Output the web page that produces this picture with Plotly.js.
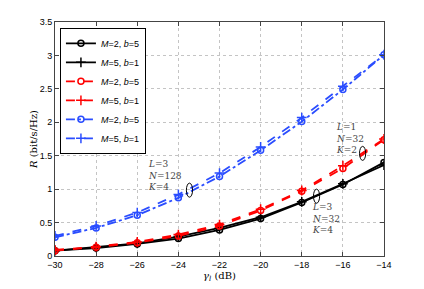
<!DOCTYPE html>
<html><head><meta charset="utf-8">
<script src="https://cdn.plot.ly/plotly-3.0.1.min.js"></script>
<style>html,body{margin:0;padding:0;background:#fff}#c{width:424px;height:289px}</style>
</head><body><div id="c"></div>
<script>
const gamma = [-30, -28, -26, -24, -22, -20, -18, -16, -14];
const blackM2 = [0.08, 0.12, 0.18, 0.26, 0.39, 0.56, 0.80, 1.07, 1.40];
const blackM5 = [0.08, 0.13, 0.19, 0.29, 0.42, 0.58, 0.81, 1.08, 1.36];
const redM2 = [0.08, 0.13, 0.20, 0.30, 0.45, 0.68, 0.97, 1.31, 1.74];
const redM5 = [0.09, 0.14, 0.21, 0.32, 0.47, 0.70, 0.98, 1.35, 1.75];
const blueM2 = [0.28, 0.42, 0.61, 0.87, 1.19, 1.58, 2.01, 2.49, 3.01];
const blueM5 = [0.30, 0.45, 0.65, 0.92, 1.24, 1.63, 2.07, 2.54, 3.01];
const names = ['<i>M</i>=2, <i>b</i>=5', '<i>M</i>=5, <i>b</i>=1'];

function tr(y, name, color, dash, sym) {
  return {x: gamma, y: y, name: name, mode: 'lines+markers', type: 'scatter',
    line: {color: color, width: 1.8, dash: dash},
    marker: {symbol: sym, size: sym === 'circle-open' ? 6 : 7, color: color, line: {width: 1.5, color: color}}};
}
const data = [
  tr(blackM2, names[0], '#000000', 'solid', 'circle-open'),
  tr(blackM5, names[1], '#000000', 'solid', 'cross-thin-open'),
  tr(redM2, names[0], '#ff0000', 'dash', 'circle-open'),
  tr(redM5, names[1], '#ff0000', 'dash', 'cross-thin-open'),
  tr(blueM2, names[0], '#2a4dff', 'dashdot', 'circle-open'),
  tr(blueM5, names[1], '#2a4dff', 'dash', 'cross-thin-open')
];
const annFont = {family: 'DejaVu Serif', size: 9, color: '#444'};
const layout = {
  width: 424, height: 289,
  margin: {l: 55, r: 40, t: 22, b: 33},
  paper_bgcolor: '#fff', plot_bgcolor: '#fff',
  font: {family: 'Liberation Sans', size: 9, color: '#000'},
  xaxis: {range: [-30, -14], dtick: 2, tick0: -30, showgrid: true, gridcolor: '#c4c4c4', griddash: 'dot',
    zeroline: false, showline: true, linecolor: '#444', linewidth: 1, mirror: 'ticks', ticks: 'inside', ticklen: 4,
    tickcolor: '#444',
    title: {text: '<i>γ<sub>l</sub></i> (dB)', font: {family: 'DejaVu Serif', size: 10}, standoff: 0}},
  yaxis: {range: [0, 3.5], dtick: 0.5, showgrid: true, gridcolor: '#c4c4c4', griddash: 'dot',
    zeroline: false, showline: true, linecolor: '#444', linewidth: 1, mirror: 'ticks', ticks: 'inside', ticklen: 4,
    tickcolor: '#444',
    title: {text: '<i>R</i> (bit/s/Hz)', font: {family: 'DejaVu Serif', size: 10}, standoff: 0}},
  legend: {x: 0.015, y: 0.975, xanchor: 'left', yanchor: 'top', bgcolor: '#fff', bordercolor: '#000', borderwidth: 1,
    font: {family: 'Liberation Sans', size: 9}, tracegroupgap: 0, itemwidth: 30},
  showlegend: true,
  annotations: [
    {x: -25.56, y: 1.21, xref: 'x', yref: 'y', xanchor: 'left', yanchor: 'middle', align: 'left', showarrow: false,
     text: '<i>L</i>=3<br><i>N</i>=128<br><i>K</i>=4', font: annFont},
    {x: -16.44, y: 1.76, xref: 'x', yref: 'y', xanchor: 'left', yanchor: 'middle', align: 'left', showarrow: false,
     text: '<i>L</i>=1<br><i>N</i>=32<br><i>K</i>=2', font: annFont},
    {x: -17.61, y: 0.567, xref: 'x', yref: 'y', xanchor: 'left', yanchor: 'middle', align: 'left', showarrow: false,
     text: '<i>L</i>=3<br><i>N</i>=32<br><i>K</i>=4', font: annFont}
  ],
  shapes: [
    {type: 'circle', xref: 'x', yref: 'y', x0: -23.61, x1: -23.31, y0: 0.88, y1: 1.09, line: {color: '#000', width: 1}},
    {type: 'circle', xref: 'x', yref: 'y', x0: -15.19, x1: -14.89, y0: 1.43, y1: 1.64, line: {color: '#000', width: 1}},
    {type: 'circle', xref: 'x', yref: 'y', x0: -17.43, x1: -17.13, y0: 0.79, y1: 1.00, line: {color: '#000', width: 1}}
  ]
};
Plotly.newPlot('c', data, layout, {displayModeBar: false, staticPlot: true});
</script></body></html>
